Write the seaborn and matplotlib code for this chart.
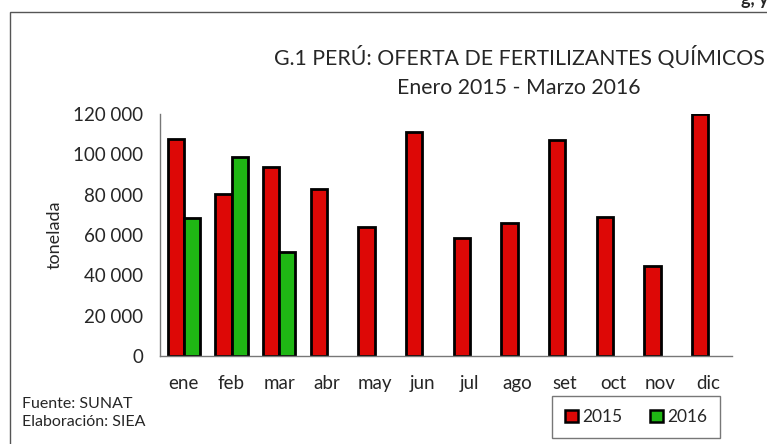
import pandas as pd
import matplotlib.pyplot as plt
import matplotlib.patches as mpatches
import seaborn as sns

# Data (toneladas)
meses = ['ene', 'feb', 'mar', 'abr', 'may', 'jun', 'jul', 'ago', 'set', 'oct', 'nov', 'dic']
oferta_2015 = [107400, 80200, 93500, 82600, 63800, 111000, 58700, 65900, 107100, 69100, 44600, 120000]
oferta_2016 = [68300, 98500, 51700]
y_ticks = [0, 20000, 40000, 60000, 80000, 100000, 120000]

rojo = '#DD0806'
verde = '#1FB714'

df = pd.concat([
    pd.DataFrame({'mes': meses, 'valor': oferta_2015, 'anio': '2015'}),
    pd.DataFrame({'mes': meses[:len(oferta_2016)], 'valor': oferta_2016, 'anio': '2016'}),
])

sns.set_style('white')
plt.rcParams['font.family'] = ['Lato', 'DejaVu Sans']

fig = plt.figure(figsize=(7.67, 4.44), dpi=100)
ax = fig.add_axes([160 / 767, 1 - 356 / 444, (732 - 160) / 767, (356 - 114) / 444])

sns.barplot(data=df, x='mes', y='valor', hue='anio', order=meses, hue_order=['2015', '2016'],
            palette=[rojo, verde], width=0.68, edgecolor='black', linewidth=2,
            saturation=1, legend=False, ax=ax)

ax.set_xlim(-0.5, 11.5)
ax.set_ylim(0, 120000)
ax.set_yticks(y_ticks)
ax.set_yticklabels([f'{v:,}'.replace(',', ' ') for v in y_ticks], fontsize=13.5)
ax.set_xticks(range(len(meses)))
ax.set_xticklabels(meses, fontsize=13.5)
ax.set_xticks([i - 0.5 for i in range(len(meses) + 1)], minor=True)
ax.tick_params(axis='x', which='major', length=0, pad=14)
ax.tick_params(axis='x', which='minor', length=10, direction='inout', color='#555555', width=1)
ax.tick_params(axis='y', length=12, direction='inout', color='#555555', width=1, pad=6)
ax.set_xlabel('')
ax.set_ylabel('tonelada', fontsize=13, labelpad=8)

for s in ['top', 'right']:
    ax.spines[s].set_visible(False)
for s in ['left', 'bottom']:
    ax.spines[s].set_color('#777777')
    ax.spines[s].set_linewidth(1)

# Title
fig.text(519 / 767, 1 - 58 / 444, 'G.1 PERÚ: OFERTA DE FERTILIZANTES QUÍMICOS',
         ha='center', va='center', fontsize=15.3)
fig.text(519 / 767, 1 - 88 / 444, 'Enero 2015 - Marzo 2016',
         ha='center', va='center', fontsize=15.3)

# Source notes
fig.text(22 / 767, 1 - 404 / 444, 'Fuente: SUNAT', ha='left', va='center', fontsize=11.5)
fig.text(22 / 767, 1 - 422 / 444, 'Elaboración: SIEA', ha='left', va='center', fontsize=11.5)

# Partially cut text at the top
fig.text(755 / 767, 1.0, 'g, y', ha='center', va='center', fontsize=13, fontweight='bold')

# Outer frame
fig.add_artist(mpatches.Rectangle((10 / 767, -0.05), 1.0, 1 - 12 / 444 + 0.05,
                                  transform=fig.transFigure, fill=False,
                                  edgecolor='#555555', linewidth=1))

# Legend
handles = [mpatches.Patch(facecolor=rojo, edgecolor='black', linewidth=1.8, label='2015'),
           mpatches.Patch(facecolor=verde, edgecolor='black', linewidth=1.8, label='2016')]
leg = fig.legend(handles=handles, ncol=2, loc='center',
                 bbox_to_anchor=(636 / 767, 1 - 417 / 444), fontsize=12.5,
                 frameon=True, fancybox=False, handlelength=0.75, handleheight=0.75,
                 handletextpad=0.25, columnspacing=1.6, borderpad=0.75, borderaxespad=0)
leg.get_frame().set_edgecolor('#555555')
leg.get_frame().set_linewidth(1)

fig.savefig('out.png', dpi=100)
